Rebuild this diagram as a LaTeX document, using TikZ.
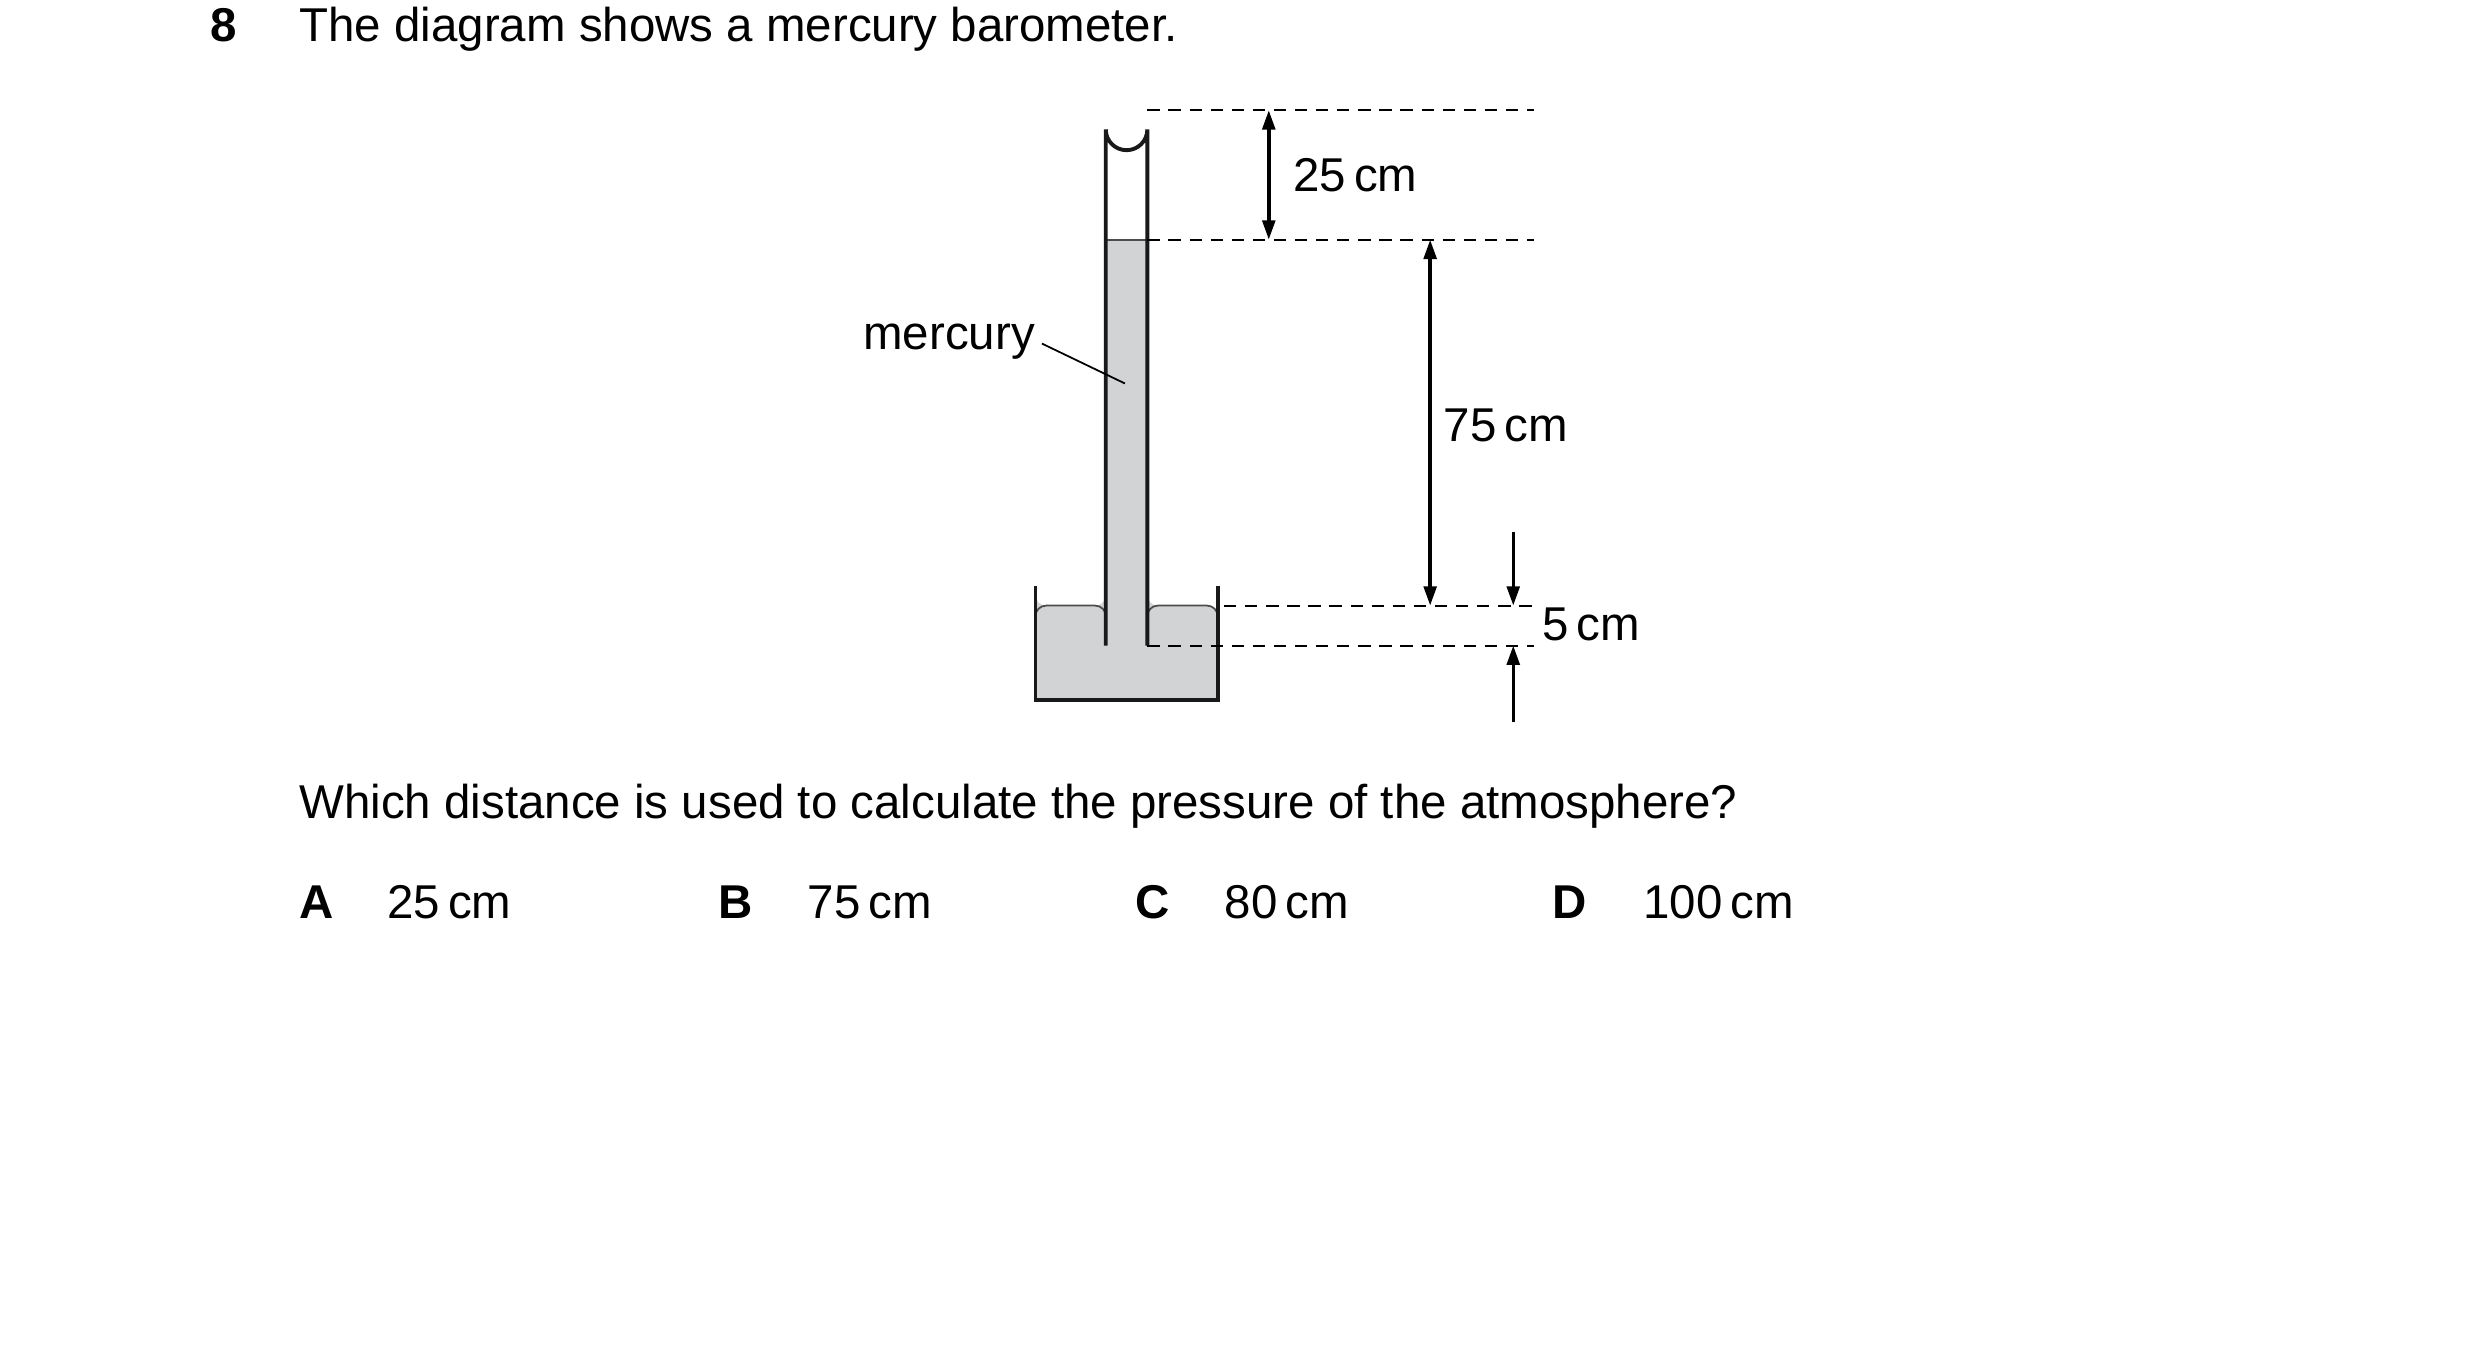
\documentclass[tikz,border=0pt]{standalone}
\usepackage{fontspec}
\setmainfont{Liberation Sans}
\usetikzlibrary{arrows.meta}
\definecolor{hg}{RGB}{210,211,213}
\begin{document}
\begin{tikzpicture}[x=0.01598cm,y=-0.01598cm,
  txt/.style={anchor=base west,inner sep=0pt,font=\fontsize{13.5}{16}\selectfont},
  wall/.style={line width=1.1pt,black!90},
  dashln/.style={line width=0.6pt,dash pattern=on 3.5pt off 2.5pt},
  dim/.style={line width=1pt,{Triangle[length=5.5pt,width=3.6pt]}-{Triangle[length=5.5pt,width=3.6pt]}},
  one/.style={line width=1pt,-{Triangle[length=5.5pt,width=3.6pt]}}]
\useasboundingbox (0,0) rectangle (1552,843.6);
% mercury
\fill[hg] (648,379) [rounded corners=3pt]-- (648,379) -- (692,379) [sharp corners]-- (692,150) -- (718,150) [rounded corners=3pt]-- (718,379) -- (762,379) [sharp corners]-- (762,438) -- (648,438) -- cycle;
\draw[line width=0.5pt,black!70,rounded corners=3pt] (648,390) -- (648,379) -- (692,379) -- (692,395);
\draw[line width=0.5pt,black!70,rounded corners=3pt] (718,395) -- (718,379) -- (762,379) -- (762,390);
\draw[line width=0.5pt,black!70] (692,150) -- (718,150);
% tube
\draw[wall] (692,404) -- (692,81) arc[start angle=180,end angle=0,radius=13] -- (718,404);
% reservoir
\draw[wall] (648,367) -- (648,438) -- (762,438) -- (762,367);
% dashed levels
\coordinate (t1) at (718,69); \coordinate (t2) at (960,69);
\coordinate (m1) at (718,150); \coordinate (m2) at (960,150);
\coordinate (r1) at (766,379); \coordinate (r2) at (960,379);
\coordinate (b1) at (718,404); \coordinate (b2) at (960,404);
\draw[dashln] (t1) -- (t2);
\draw[dashln] (m1) -- (m2);
\draw[dashln] (r1) -- (r2);
\draw[dashln] (b1) -- (b2);
% dimensions
\coordinate (a1) at (794,69); \coordinate (a2) at (794,150);
\draw[dim] (a1) -- (a2);
\coordinate (c1) at (895,150); \coordinate (c2) at (895,379);
\draw[dim] (c1) -- (c2);
\coordinate (d0) at (947,333); \coordinate (d1) at (947,379);
\draw[one] (d0) -- (d1);
\coordinate (e0) at (947,452); \coordinate (e1) at (947,404);
\draw[one] (e0) -- (e1);
\node[txt] (l25) at (809,120) {25\,cm};
\node[txt] (l75) at (903,276) {75\,cm};
\node[txt] (l5) at (965,401) {5\,cm};
\node[txt,anchor=base east] (merc) at (648,219) {mercury};
\coordinate (mp) at (704,240);
\draw[line width=0.5pt] (652,215) -- (mp);
% text
\node[txt,font=\fontsize{13.5}{16}\selectfont\bfseries] (q) at (131,26) {8};
\node[txt] (title) at (187,26) {The diagram shows a mercury barometer.};
\node[txt] (ques) at (187,512) {Which distance is used to calculate the pressure of the atmosphere?};
\node[txt,font=\fontsize{13.5}{16}\selectfont\bfseries] (A) at (187,575) {A};
\node[txt] (Av) at (242,575) {25\,cm};
\node[txt,font=\fontsize{13.5}{16}\selectfont\bfseries] (B) at (449,575) {B};
\node[txt] (Bv) at (505,575) {75\,cm};
\node[txt,font=\fontsize{13.5}{16}\selectfont\bfseries] (C) at (710,575) {C};
\node[txt] (Cv) at (766,575) {80\,cm};
\node[txt,font=\fontsize{13.5}{16}\selectfont\bfseries] (D) at (971,575) {D};
\node[txt] (Dv) at (1028,575) {100\,cm};
\end{tikzpicture}
\end{document}
